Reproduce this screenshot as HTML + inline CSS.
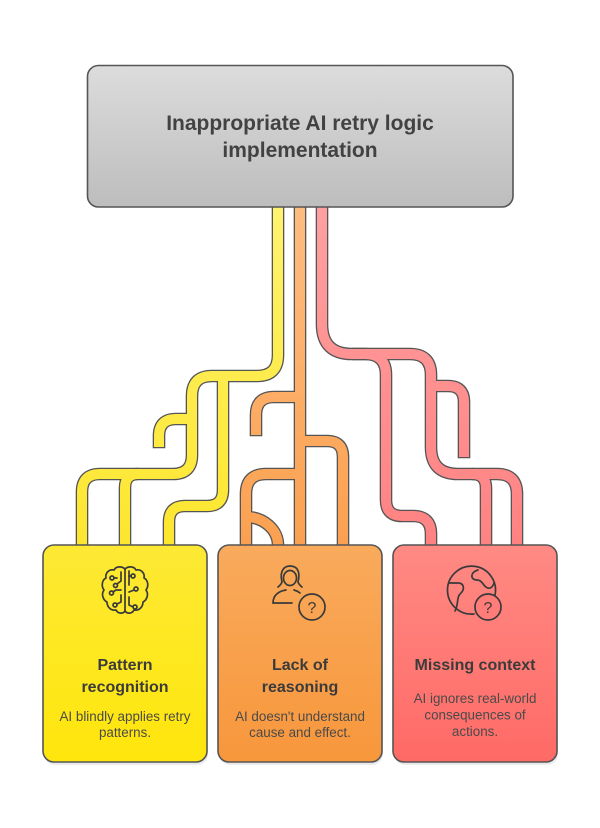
<!DOCTYPE html>
<html>
<head>
<meta charset="utf-8">
<style>
  html,body{margin:0;padding:0;background:#fff;}
  svg{display:block;}
  text{font-family:"Liberation Sans", Arial, sans-serif;}
</style>
</head>
<body>
<svg width="600" height="828" viewBox="0 0 600 828" xmlns="http://www.w3.org/2000/svg">
  <defs>
    <linearGradient id="gTop" x1="0" y1="0" x2="0" y2="1">
      <stop offset="0" stop-color="#dcdcdc"/>
      <stop offset="1" stop-color="#bdbdbd"/>
    </linearGradient>
    <linearGradient id="gY" x1="0" y1="0" x2="0" y2="1">
      <stop offset="0" stop-color="#fde934"/>
      <stop offset="1" stop-color="#ffe60c"/>
    </linearGradient>
    <linearGradient id="gO" x1="0" y1="0" x2="0" y2="1">
      <stop offset="0" stop-color="#f9aa5c"/>
      <stop offset="1" stop-color="#f8973c"/>
    </linearGradient>
    <linearGradient id="gP" x1="0" y1="0" x2="0" y2="1">
      <stop offset="0" stop-color="#ff8a84"/>
      <stop offset="1" stop-color="#ff6a66"/>
    </linearGradient>
    <linearGradient id="lY" gradientUnits="userSpaceOnUse" x1="0" y1="207" x2="0" y2="545">
      <stop offset="0" stop-color="#fff26e"/>
      <stop offset="1" stop-color="#fde62e"/>
    </linearGradient>
    <linearGradient id="lO" gradientUnits="userSpaceOnUse" x1="0" y1="207" x2="0" y2="545">
      <stop offset="0" stop-color="#ffbd80"/>
      <stop offset="1" stop-color="#fba050"/>
    </linearGradient>
    <linearGradient id="lP" gradientUnits="userSpaceOnUse" x1="0" y1="207" x2="0" y2="545">
      <stop offset="0" stop-color="#ffa0a0"/>
      <stop offset="1" stop-color="#ff8282"/>
    </linearGradient>
  </defs>

  <!-- connector outlines -->
  <g fill="none" stroke="#555" stroke-width="12.6" stroke-linejoin="round">
    <!-- yellow -->
    <path d="M278 207 V355 Q278 376 257 376 H212 Q192 376 192 396 V455 Q192 474 173 474 H100 Q82 474 82 492 V545"/>
    <path d="M138 474 Q125 474 125 488 V545"/>
    <path d="M192 419 H176 Q159 419 159 436 V448.3"/>
    <path d="M223 376 V490 Q223 506 207 506 H185 Q169 506 169 522 V545"/>
    <!-- orange -->
    <path d="M300 207 V545"/>
    <path d="M300 397 H274 Q256 397 256 415 V436.3"/>
    <path d="M300 441 H327 Q343 441 343 457 V545"/>
    <path d="M300 474 H266 Q246 474 246 494 V545"/>
    <path d="M246 517 A32 28 0 0 1 278 545"/>
    <!-- pink -->
    <path d="M322 207 V324 Q322 354 352 354 H410 Q431 354 431 375 V447 Q431 474 458 474 H497 Q517 474 517 494 V545"/>
    <path d="M472 474 Q486 474 486 488 V545"/>
    <path d="M431 386 H448 Q464 386 464 402 V458.3"/>
    <path d="M352 354 H365 Q386 354 386 375 V500 Q386 516 402 516 H413 Q431 516 431 534 V545"/>
  </g>
  <!-- connector fills -->
  <g fill="none" stroke-width="10" stroke-linejoin="round">
    <g stroke="url(#lY)">
      <path d="M278 200 V355 Q278 376 257 376 H212 Q192 376 192 396 V455 Q192 474 173 474 H100 Q82 474 82 492 V550"/>
      <path d="M138 474 Q125 474 125 488 V550"/>
      <path d="M192 419 H176 Q159 419 159 436 V447"/>
      <path d="M223 376 V490 Q223 506 207 506 H185 Q169 506 169 522 V550"/>
    </g>
    <g stroke="url(#lO)">
      <path d="M300 200 V550"/>
      <path d="M300 397 H274 Q256 397 256 415 V435"/>
      <path d="M300 441 H327 Q343 441 343 457 V550"/>
      <path d="M300 474 H266 Q246 474 246 494 V550"/>
      <path d="M246 517 A32 28 0 0 1 278 545 V550"/>
    </g>
    <g stroke="url(#lP)">
      <path d="M322 200 V324 Q322 354 352 354 H410 Q431 354 431 375 V447 Q431 474 458 474 H497 Q517 474 517 494 V550"/>
      <path d="M472 474 Q486 474 486 488 V550"/>
      <path d="M431 386 H448 Q464 386 464 402 V457"/>
      <path d="M352 354 H365 Q386 354 386 375 V500 Q386 516 402 516 H413 Q431 516 431 534 V550"/>
    </g>
  </g>

  <!-- top box -->
  <rect x="87.5" y="65.5" width="425.5" height="141.5" rx="11" fill="url(#gTop)" stroke="#555" stroke-width="1.6"/>
  <text x="300" y="130" text-anchor="middle" font-size="21" font-weight="bold" fill="#424242">Inappropriate AI retry logic</text>
  <text x="300" y="157" text-anchor="middle" font-size="21" font-weight="bold" fill="#424242">implementation</text>

  <!-- shadows -->
  <rect x="44" y="548" width="164" height="217" rx="11" fill="#000" opacity="0.08"/>
  <rect x="219" y="548" width="164" height="217" rx="11" fill="#000" opacity="0.08"/>
  <rect x="394" y="548" width="164" height="217" rx="11" fill="#000" opacity="0.08"/>

  <!-- bottom boxes -->
  <rect x="43" y="545" width="164" height="217" rx="11" fill="url(#gY)" stroke="#555" stroke-width="1.6"/>
  <rect x="218" y="545" width="164" height="217" rx="11" fill="url(#gO)" stroke="#555" stroke-width="1.6"/>
  <rect x="393" y="545" width="164" height="217" rx="11" fill="url(#gP)" stroke="#555" stroke-width="1.6"/>

  <!-- brain icon -->
  <g transform="translate(100,565)" fill="none" stroke="#3a3a3a" stroke-width="1.7" stroke-linecap="round" stroke-linejoin="round">
    <path d="M25 4 C22 1 16 1 14 5 C9 4 5 8 6 13 C2 15 1 21 4 25 C1 29 3 35 7 37 C7 42 11 46 16 45 C18 49 23 49 25 46"/>
    <path d="M25 4 C28 1 34 1 36 5 C41 4 45 8 44 13 C48 15 49 21 46 25 C49 29 47 35 43 37 C43 42 39 46 34 45 C32 49 27 49 25 46"/>
    <path d="M25 4 V46"/>
    <path d="M21 7 V16 L17 19"/><circle cx="15.5" cy="20.5" r="2"/>
    <circle cx="19" cy="8" r="0"/>
    <circle cx="12" cy="13" r="2"/><path d="M14 13 H17"/>
    <path d="M21 25 H16 L13 27"/><circle cx="11.5" cy="28" r="2"/>
    <path d="M21 30 V37 L17 39"/><circle cx="15" cy="40" r="2"/>
    <path d="M29 6 V20"/><circle cx="33" cy="11" r="2"/><path d="M31 11 H29"/>
    <path d="M29 27 L34 25"/><circle cx="36" cy="24" r="2"/>
    <path d="M29 32 V40 L33 42"/><circle cx="35" cy="42" r="2"/>
    <circle cx="39" cy="16" r="0"/>
  </g>

  <!-- person with question icon -->
  <g transform="translate(270,565)" fill="none" stroke="#3a3a3a" stroke-width="1.7" stroke-linecap="round" stroke-linejoin="round">
    <path d="M12 17 C9 5 15 1 20 1 C26 1 31 5 28 17 C29 20 31 21 32 22"/>
    <path d="M12 17 C11 20 9 21 8 22"/>
    <ellipse cx="20" cy="13" rx="6.5" ry="7.5"/>
    <path d="M3 38 C3 30 9 26 16 25 M24 25 C26 25.5 28 26.5 30 28"/>
    <path d="M3 38 H22"/>
    <circle cx="42" cy="42" r="13"/>
  </g>
  <text x="312" y="613" text-anchor="middle" font-size="16" fill="#3a3a3a">?</text>

  <!-- globe with question icon -->
  <g fill="none" stroke="#3a3a3a" stroke-width="1.7" stroke-linecap="round" stroke-linejoin="round">
    <path d="M474 614 A24 24 0 1 1 495 595"/>
    <path d="M449 583 H458 C464 583 465 589 461 593 C456 597 459 604 455 611"/>
    <path d="M478 570 C470 572 470 580 477 580 C483 580 483 587 488 588 C491 589 493 586 494 583"/>
    <circle cx="488" cy="607" r="13" fill="#ff7c78"/>
  </g>
  <text x="488" y="613" text-anchor="middle" font-size="16" fill="#3a3a3a">?</text>

  <!-- box titles -->
  <g font-size="16" font-weight="bold" fill="#3b3b3b" text-anchor="middle">
    <text x="125" y="670">Pattern</text>
    <text x="125" y="692">recognition</text>
    <text x="300" y="670">Lack of</text>
    <text x="300" y="692">reasoning</text>
    <text x="475" y="670">Missing context</text>
  </g>
  <g font-size="13.4" fill="#4a4a4a" text-anchor="middle">
    <text x="125" y="721">AI blindly applies retry</text>
    <text x="125" y="737">patterns.</text>
    <text x="300" y="721">AI doesn't understand</text>
    <text x="300" y="737">cause and effect.</text>
    <text x="475" y="703">AI ignores real-world</text>
    <text x="475" y="719.5">consequences of</text>
    <text x="475" y="736">actions.</text>
  </g>
</svg>
</body>
</html>
